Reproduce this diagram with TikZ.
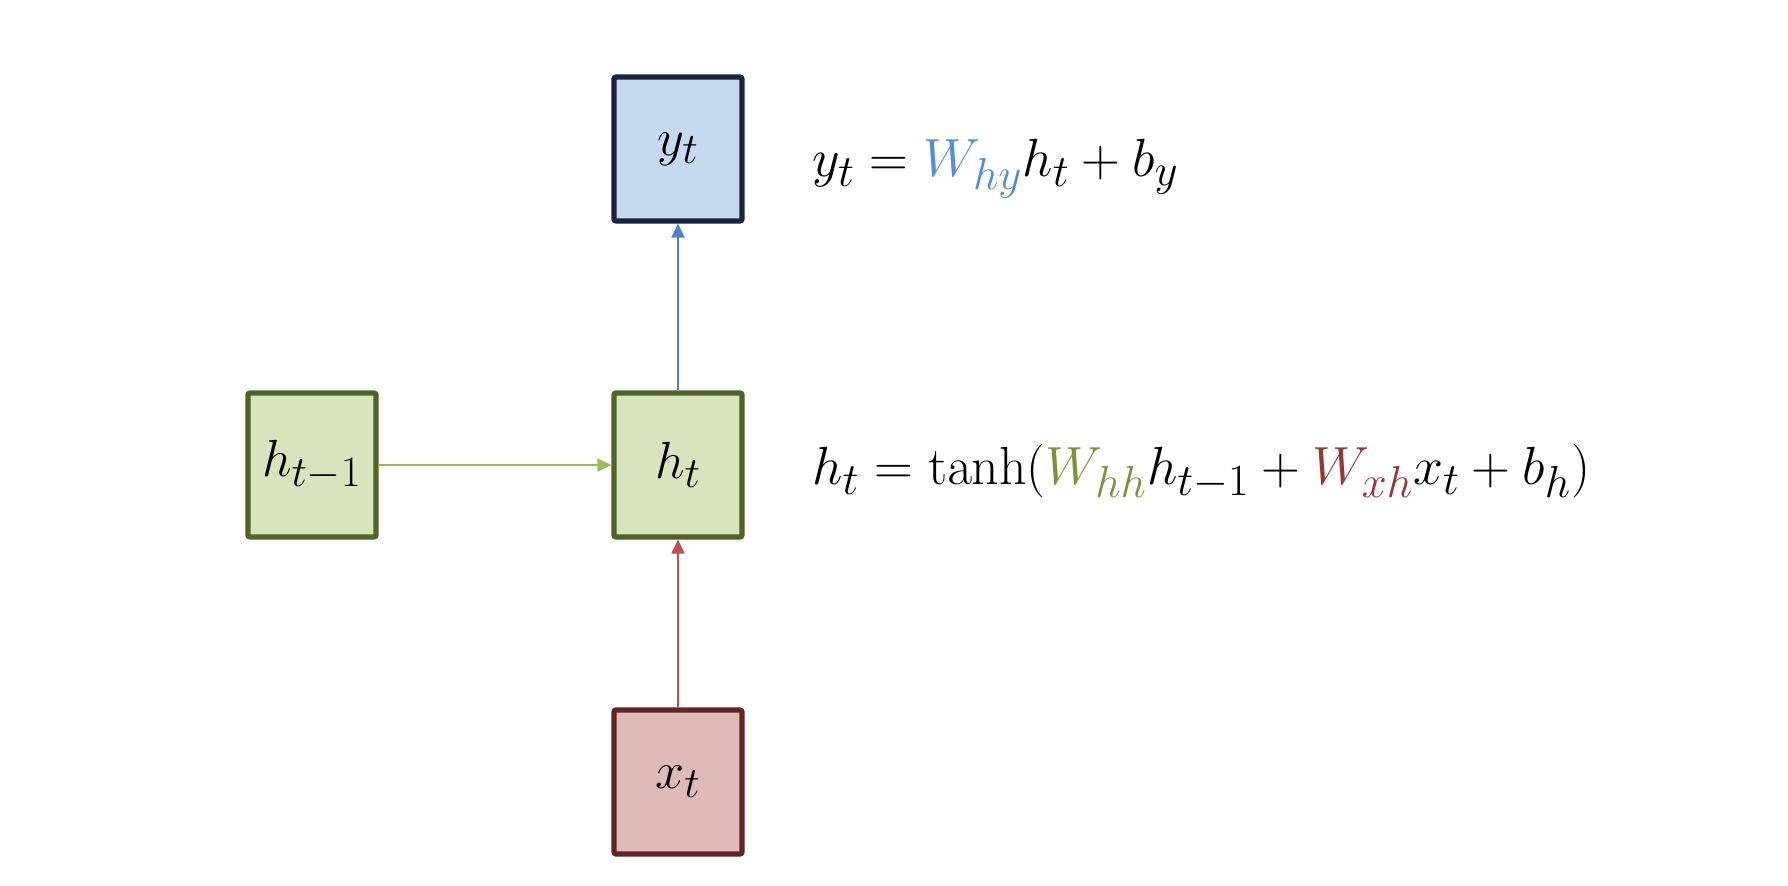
\documentclass[tikz,border=0pt]{standalone}
\usepackage{graphicx}
\usetikzlibrary{arrows.meta}
\definecolor{yfill}{HTML}{C6D9F1}
\definecolor{ydraw}{HTML}{17243B}
\definecolor{hfill}{HTML}{D7E4BD}
\definecolor{hdraw}{HTML}{4F6228}
\definecolor{xfill}{HTML}{E0BAB9}
\definecolor{xdraw}{HTML}{632523}
\definecolor{ablue}{HTML}{4F81BD}
\definecolor{agreen}{HTML}{9BBB59}
\definecolor{ared}{HTML}{C0504D}
\definecolor{wblue}{HTML}{558ED5}
\definecolor{wgreen}{HTML}{77933C}
\definecolor{wred}{HTML}{953735}
\newcommand{\boxlab}[1]{\scalebox{1.05}{$#1$}}
\newcommand{\eqlab}[1]{\scalebox{1.08}{$#1$}}
\begin{document}
\begin{tikzpicture}[x=0.5pt,y=-0.5pt,
  cell/.style={rectangle, rounded corners=1pt, line width=2.6pt, minimum width=64pt, minimum height=72pt, inner sep=0pt, font=\fontsize{24.88}{30}\selectfont},
  ycell/.style={cell, draw=ydraw, fill=yfill},
  hcell/.style={cell, draw=hdraw, fill=hfill},
  xcell/.style={cell, draw=xdraw, fill=xfill},
  conn/.style={line width=1pt, -{Triangle[length=7pt,width=6.5pt]}},
  eq/.style={anchor=base west, inner sep=0pt, font=\fontsize{24.88}{30}\selectfont}]
\useasboundingbox (0,0) rectangle (1788,886);
\node[ycell] (y) at (678,149) {\boxlab{y_t}};
\node[hcell] (h) at (678,465) {\boxlab{h_t}};
\node[hcell] (hp) at (312,465) {\boxlab{h_{t-1}}};
\node[xcell] (x) at (678,782) {\boxlab{x_t}};
\draw[conn, draw=ablue, fill=ablue] (h.north) -- (y.south);
\draw[conn, draw=agreen, fill=agreen] (hp.east) -- (h.west);
\draw[conn, draw=ared, fill=ared] (x.north) -- (h.south);
\node[eq] (eqy) at (812,177) {\eqlab{y_t = \textcolor{wblue}{W_{hy}} h_t + b_y}};
\node[eq] (eqh) at (812,485) {\eqlab{h_t = \tanh(\textcolor{wgreen}{W_{hh}} h_{t-1} + \textcolor{wred}{W_{xh}} x_t + b_h)}};
\end{tikzpicture}
\end{document}
